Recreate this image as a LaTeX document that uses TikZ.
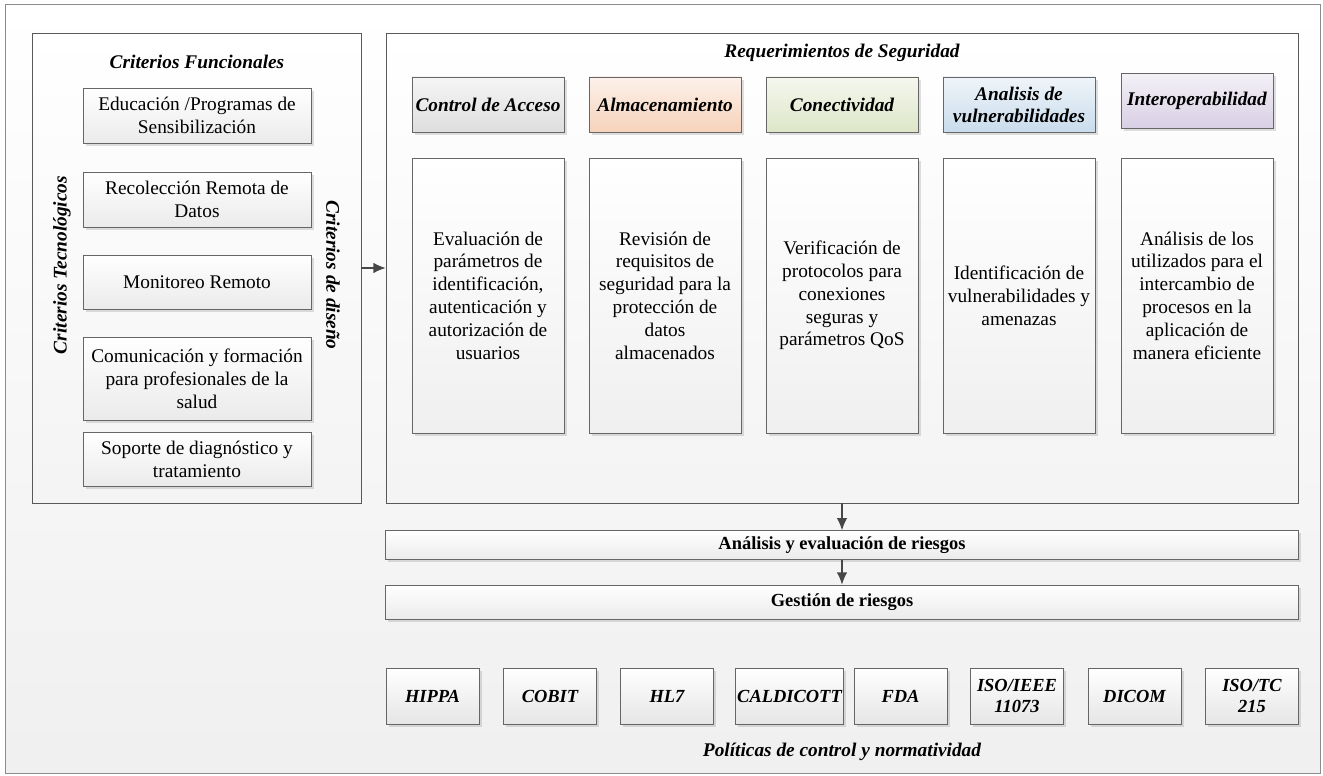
\documentclass[tikz,border=0pt]{standalone}
\usepackage{fontspec}
\setmainfont{Liberation Serif}
\usetikzlibrary{shadows,arrows.meta}
\definecolor{hdgray}{HTML}{DEDEDE}
\definecolor{hdpeach}{HTML}{F6D2BA}
\definecolor{hdgreen}{HTML}{DDE6C8}
\definecolor{hdblue}{HTML}{C9DCEC}
\definecolor{hdpurple}{HTML}{D8CFE4}
\tikzset{
  sombra/.style={drop shadow={shadow xshift=1.5pt, shadow yshift=-1.5pt, opacity=.25}},
  panel/.style={draw=black!65, top color=white, bottom color=gray!9, minimum height=9.4cm},
  critbox/.style={draw=black!60, top color=white, bottom color=gray!16, sombra, minimum width=4.56cm, align=center, inner sep=1pt, font=\fontsize{11}{13}\selectfont},
  headbox/.style={draw=black!60, top color=#1!30!white, bottom color=#1, sombra, minimum width=3.04cm, minimum height=1.1cm, align=center, inner sep=1pt, font=\bfseries\itshape\fontsize{11}{12.5}\selectfont},
  descbox/.style={draw=black!60, top color=white, bottom color=gray!12, sombra, minimum width=3.04cm, minimum height=5.5cm, align=center, inner sep=1pt, font=\fontsize{11}{13}\selectfont},
  riskbar/.style={draw=black!60, top color=white, bottom color=gray!16, sombra, minimum width=18.26cm, font=\bfseries\fontsize{10.5}{12}\selectfont},
  normbox/.style={draw=black!60, top color=white, bottom color=gray!20, sombra, minimum height=1.12cm, minimum width=1.86cm, align=center, inner sep=1pt, font=\bfseries\itshape\fontsize{10.5}{12}\selectfont},
  titulo/.style={font=\bfseries\itshape\fontsize{11}{13}\selectfont},
  flecha/.style={->, black!72, thick},
}
\begin{document}
\begin{tikzpicture}[>={Latex[length=7pt,width=6pt]}, x=0.02cm, y=-0.02cm]
\useasboundingbox (0,0) rectangle (1323,776);
\draw [black!45, top color=white, bottom color=gray!12] (5,4) rectangle (1320,773);

% criterios
\node (lp) at (196.5,268) [panel, minimum width=6.58cm] {};
\node (fun) at (197,62) [titulo] {Criterios Funcionales};
\node (tec) at (62,265) [titulo, rotate=90] {Criterios Tecnológicos};
\node (dis) at (333,275) [titulo, rotate=-90] {Criterios de diseño};
\node (c1) at (197,115.5) [critbox, minimum height=1.1cm] {Educación /Programas de\\Sensibilización};
\node (c2) at (197,199.5) [critbox, minimum height=1.1cm] {Recolección Remota de\\Datos};
\node (c3) at (197,282) [critbox, minimum height=1.08cm] {Monitoreo Remoto};
\node (c4) at (197,378.5) [critbox, minimum height=1.66cm] {Comunicación y formación\\para profesionales de la\\salud};
\node (c5) at (197,459) [critbox, minimum height=1.08cm] {Soporte de diagnóstico y\\tratamiento};

% requerimientos
\node (rp) at (842,268) [panel, minimum width=18.24cm] {};
\node (req) at (842,53) [titulo] {Requerimientos de Seguridad};
\foreach \x/\n/\c/\t in {488/ca/hdgray/{Control de Acceso},
    665/al/hdpeach/{Almacenamiento},
    842/co/hdgreen/{Conectividad},
    1019/av/hdblue/{Analisis de\\vulnerabilidades}}
  \node (h\n) at (\x,104.5) [headbox=\c] {\t};
\node (hin) at (1197,101) [headbox=hdpurple] {Interoperabilidad};
\foreach \x/\n/\t in {488/ca/{Evaluación de\\parámetros de\\identificación,\\autenticación y\\autorización de\\usuarios},
    665/al/{Revisión de\\requisitos de\\seguridad para la\\protección de\\datos\\almacenados},
    842/co/{Verificación de\\protocolos para\\conexiones\\seguras y\\parámetros QoS},
    1019/av/{Identificación de\\vulnerabilidades y\\amenazas},
    1197/in/{Análisis de los\\utilizados para el\\intercambio de\\procesos en la\\aplicación de\\manera eficiente}}
  \node (d\n) at (\x,295.5) [descbox] {\t};

% riesgos
\node (ar) at (842,545) [riskbar, minimum height=0.56cm] {Análisis y evaluación de riesgos};
\node (gr) at (842,602) [riskbar, minimum height=0.68cm] {Gestión de riesgos};

\draw [flecha] (lp.east) -- (rp.west);
\draw [flecha] (rp.south) -- (ar.north);
\draw [flecha] (ar.south) -- (gr.north);

% normas
\foreach \x/\n/\t in {432.5/hip/HIPPA, 550/cob/COBIT, 667/hl/HL7, 900.5/fda/FDA,
    1017/iee/{ISO/IEEE\\11073}, 1134.5/dic/DICOM, 1252/itc/{ISO/TC\\215}}
  \node (n\n) at (\x,696) [normbox] {\t};
\node (ncal) at (789.5,696) [normbox, minimum width=2.1cm] {CALDICOTT};
\node (pol) at (842,752) [titulo] {Políticas de control y normatividad};
\end{tikzpicture}
\end{document}
